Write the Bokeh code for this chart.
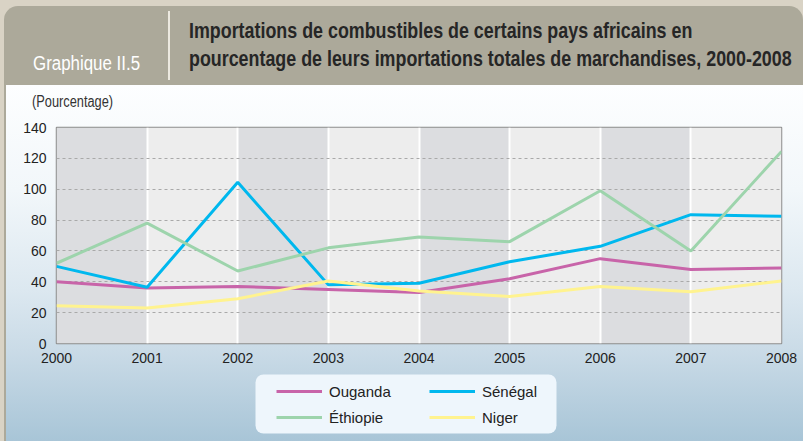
from bokeh.plotting import figure
from bokeh.models import (BoxAnnotation, Legend, LegendItem, FixedTicker, Range1d, Div)
from bokeh.layouts import column
from bokeh.embed import file_html
from bokeh.resources import INLINE

# ---- data ----
years = [2000, 2001, 2002, 2003, 2004, 2005, 2006, 2007, 2008]
ouganda = [40, 36, 37, 35, 33, 42, 55, 48, 49]
senegal = [50, 36.5, 104.5, 38, 39, 53, 63, 83.5, 82.5]
ethiopie = [52, 78, 47, 62, 69, 66, 99, 60, 124.5]
niger = [24.5, 23, 29, 40.5, 34, 30.5, 37, 33.5, 40.5]
y_ticks = [0, 20, 40, 60, 80, 100, 120, 140]
series_names = ["Ouganda", "Sénégal", "Éthiopie", "Niger"]
title_line1 = "Importations de combustibles de certains pays africains en"
title_line2 = "pourcentage de leurs importations totales de marchandises, 2000-2008"
chart_tag = "Graphique II.5"
y_unit = "(Pourcentage)"

FONT = "'Liberation Sans', Arial, sans-serif"
colors = ["#c864a9", "#00b8ee", "#9dd4ac", "#fff38f"]

W, H = 803, 441
TOP_H = 118
LEG_H = 69
FIG_H = H - TOP_H - LEG_H   # 254
FRAME_L = 56

# ---- main chart: frame at x 56..781, y 127..343 (page px) ----
p = figure(width=W, height=FIG_H, output_backend="svg", toolbar_location=None,
           x_range=Range1d(years[0], years[-1]), y_range=Range1d(0, 140),
           min_border_left=FRAME_L, min_border_right=W - 781,
           min_border_top=127 - TOP_H, min_border_bottom=TOP_H + FIG_H - 343)
p.border_fill_color = None
p.background_fill_color = None
p.outline_line_color = "#8c8c8c"
p.outline_line_width = 1.5

for i in range(len(years) - 1):
    p.add_layout(BoxAnnotation(left=years[i], right=years[i + 1],
                               fill_color="#dcdde0" if i % 2 == 0 else "#ededed",
                               fill_alpha=1, line_color=None, level="image"))

p.xgrid.ticker = FixedTicker(ticks=years)
p.xgrid.grid_line_color = "white"
p.xgrid.grid_line_width = 2
p.ygrid.ticker = FixedTicker(ticks=y_ticks[1:-1])
p.ygrid.grid_line_color = "#a9a9a9"
p.ygrid.grid_line_dash = "3 3"
p.ygrid.grid_line_width = 1

series = [ouganda, senegal, ethiopie, niger]
for vals, c in zip(series, colors):
    p.line(years, vals, line_color=c, line_width=3)

for ax in (p.xaxis[0], p.yaxis[0]):
    ax.axis_line_color = None
    ax.major_tick_line_color = None
    ax.minor_tick_line_color = None
    ax.major_tick_in = 0
    ax.major_tick_out = 0
    ax.major_label_text_font = FONT
    ax.major_label_text_font_size = "14px"
    ax.major_label_text_color = "#222222"
p.xaxis.ticker = FixedTicker(ticks=years)
p.yaxis.ticker = FixedTicker(ticks=y_ticks)
p.xaxis.major_label_standoff = 9
p.yaxis.major_label_standoff = 10

# ---- legend strip (page y 372..441); its frame is aligned to x=56 by the column ----
lg = figure(width=W, height=LEG_H, output_backend="svg", toolbar_location=None,
            x_axis_type=None, y_axis_type=None, min_border=0,
            x_range=Range1d(0, 1), y_range=Range1d(0, 1))
lg.border_fill_color = None
lg.background_fill_color = None
lg.outline_line_color = None
lg.xgrid.visible = False
lg.ygrid.visible = False
lg.add_layout(BoxAnnotation(left=255 - FRAME_L, right=556 - FRAME_L, top=LEG_H - 2, bottom=LEG_H - 61,
                            left_units="screen", right_units="screen",
                            top_units="screen", bottom_units="screen",
                            fill_color="#eef6fc", fill_alpha=1, line_color=None,
                            border_radius=8, level="image"))
# legend proxies: one-point lines (nothing visible in this strip's frame)
leg_r = [lg.line([years[0]], [vals[0]], line_color=c, line_width=3)
         for vals, c in zip(series, colors)]
legend = Legend(items=[LegendItem(label=n, renderers=[r]) for n, r in zip(series_names, leg_r)],
                location=(276 - FRAME_L, LEG_H - 58), orientation="horizontal", ncols=2,
                padding=0, margin=0, spacing=0, label_standoff=7,
                glyph_width=46, glyph_height=26, label_height=26, label_width=100,
                background_fill_alpha=0, border_line_color=None,
                label_text_font=FONT, label_text_font_size="15px",
                label_text_color="#222222")
lg.add_layout(legend, "center")

# ---- header (HTML) ----
header_html = f"""
<div style="position:relative;width:{W}px;height:{TOP_H}px;font-family:{FONT};">
  <div style="position:absolute;left:4px;top:6px;width:{W - 4}px;height:79px;background:#aca99a;
              border-radius:14px 14px 0 0;"></div>
  <div style="position:absolute;left:168px;top:11px;width:2px;height:69px;background:#ece9e0;"></div>
  <span style="position:absolute;left:33px;top:53px;font-size:20px;line-height:20px;color:#ffffff;
               white-space:nowrap;display:inline-block;transform:scaleX(0.845);transform-origin:0 0;">{chart_tag}</span>
  <span style="position:absolute;left:189px;top:17px;font-size:22px;line-height:28px;font-weight:bold;
               color:#262626;white-space:nowrap;display:inline-block;transform:scaleX(0.812);
               transform-origin:0 0;">{title_line1}<br>{title_line2}</span>
  <span style="position:absolute;left:32px;top:94px;font-size:16px;line-height:16px;color:#333333;
               white-space:nowrap;display:inline-block;transform:scaleX(0.8);transform-origin:0 0;">{y_unit}</span>
</div>
"""
header = Div(text=header_html, width=W, height=TOP_H, margin=0)

bg = ("linear-gradient(to bottom, #fdfeff 0px, #f2f7fa 105px, #dce8f0 205px, #cadbe7 265px, "
      "#a8c5d7 356px) 6px 85px / 797px 356px no-repeat, "
      "linear-gradient(#aca99a, #aca99a) 4px 20px / 2px 421px no-repeat, "
      "#d9d3c5")
layout = column(header, p, lg, width=W, height=H, spacing=0, margin=0,
                styles={"background": bg})

open("out.html", "w").write(file_html(layout, INLINE))
